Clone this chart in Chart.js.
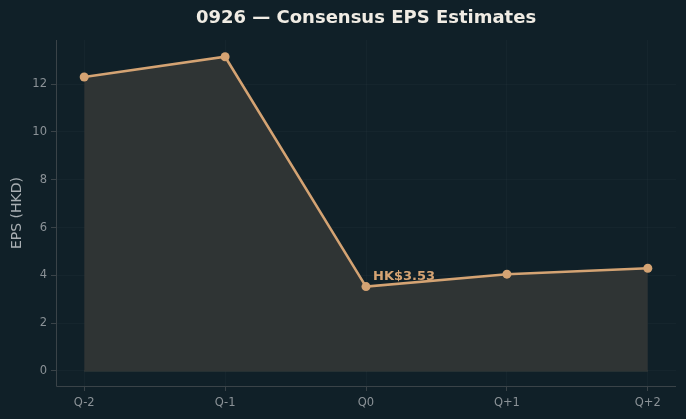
<!DOCTYPE html>
<html>
<head>
<meta charset="utf-8">
<script src="https://cdn.jsdelivr.net/npm/chart.js@4/dist/chart.umd.min.js"></script>
<style>
  html, body { margin: 0; padding: 0; background: #102028; }
  #wrap { width: 686px; height: 419px; }
</style>
</head>
<body>
<div id="wrap"><canvas id="c" width="686" height="419"></canvas></div>
<script>
// chart data
const quarters = ["Q-2", "Q-1", "Q0", "Q+1", "Q+2"];
const epsValues = [12.3, 13.15, 3.53, 4.05, 4.3];
const yTicks = [0, 2, 4, 6, 8, 10, 12];
const titleText = "0926 \u2014 Consensus EPS Estimates";
const yLabel = "EPS (HKD)";
const markIndex = 2;
const markText = "HK$3.53";

const lineColor = "#d4a373";
const tickColor = "#8b9297";
const spineColor = "#3a4348";
const gridColor = "rgba(255,255,255,0.025)";

const points = epsValues.map((v, i) => ({ x: i, y: v }));
const baseline = quarters.map((q, i) => ({ x: i, y: 0 }));

const overlay = {
    id: "overlay",
    afterDraw(chart) {
        const ctx = chart.ctx;
        const area = chart.chartArea;
        ctx.save();
        // title
        ctx.fillStyle = "#f0ece4";
        ctx.font = "bold 18px 'DejaVu Sans'";
        ctx.textAlign = "center";
        ctx.textBaseline = "middle";
        ctx.fillText(titleText, (area.left + area.right) / 2, 18);
        // y label
        ctx.fillStyle = "#a9afb3";
        ctx.font = "14px 'DejaVu Sans'";
        ctx.translate(17, (area.top + area.bottom) / 2);
        ctx.rotate(-Math.PI / 2);
        ctx.fillText(yLabel, 0, 0);
        ctx.restore();
        // annotation
        ctx.save();
        const xs = chart.scales.x, ys = chart.scales.y;
        const px = xs.getPixelForValue(markIndex);
        const py = ys.getPixelForValue(epsValues[markIndex]);
        ctx.fillStyle = lineColor;
        ctx.font = "bold 13px 'DejaVu Sans'";
        ctx.textAlign = "left";
        ctx.textBaseline = "alphabetic";
        ctx.fillText(markText, px + 7, py - 7);
        // spines
        ctx.strokeStyle = spineColor;
        ctx.lineWidth = 1;
        ctx.beginPath();
        ctx.moveTo(area.left + 0.5, area.top);
        ctx.lineTo(area.left + 0.5, area.bottom + 0.5);
        ctx.lineTo(area.right, area.bottom + 0.5);
        ctx.stroke();
        ctx.restore();
    }
};

new Chart(document.getElementById("c"), {
    type: "line",
    data: {
        datasets: [
            {
                data: points,
                borderColor: lineColor,
                borderWidth: 2.5,
                backgroundColor: "#2f3434",
                fill: "origin",
                pointRadius: 4.5,
                pointBackgroundColor: lineColor,
                pointBorderColor: lineColor,
                pointBorderWidth: 0,
                tension: 0,
                order: 1
            },
            {
                data: baseline,
                borderColor: "rgba(80,82,74,0.8)",
                borderWidth: 1,
                pointRadius: 0,
                fill: false,
                order: 2
            }
        ]
    },
    options: {
        responsive: false,
        animation: false,
        layout: { padding: { top: 40, right: 10, left: 0, bottom: 0 } },
        plugins: {
            legend: { display: false },
            title: { display: false },
            tooltip: { enabled: false }
        },
        scales: {
            x: {
                type: "linear",
                min: -0.2,
                max: 4.2,
                afterBuildTicks: (axis) => { axis.ticks = quarters.map((q, i) => ({ value: i })); },
                afterFit: (axis) => { axis.height = 33; },
                border: { display: false },
                grid: { color: gridColor, tickColor: spineColor, tickLength: 5, drawTicks: true },
                ticks: {
                    color: tickColor,
                    font: { family: "DejaVu Sans", size: 11.5 },
                    padding: 5,
                    maxRotation: 0,
                    callback: (v) => quarters[v]
                }
            },
            y: {
                min: -0.63,
                max: 13.85,
                afterBuildTicks: (axis) => { axis.ticks = yTicks.map(v => ({ value: v })); },
                afterFit: (axis) => { axis.width = 56; },
                border: { display: false },
                grid: { color: gridColor, tickColor: spineColor, tickLength: 5 },
                ticks: {
                    color: tickColor,
                    font: { family: "DejaVu Sans", size: 11.5 },
                    padding: 4
                }
            }
        }
    },
    plugins: [overlay]
});
</script>
</body>
</html>
